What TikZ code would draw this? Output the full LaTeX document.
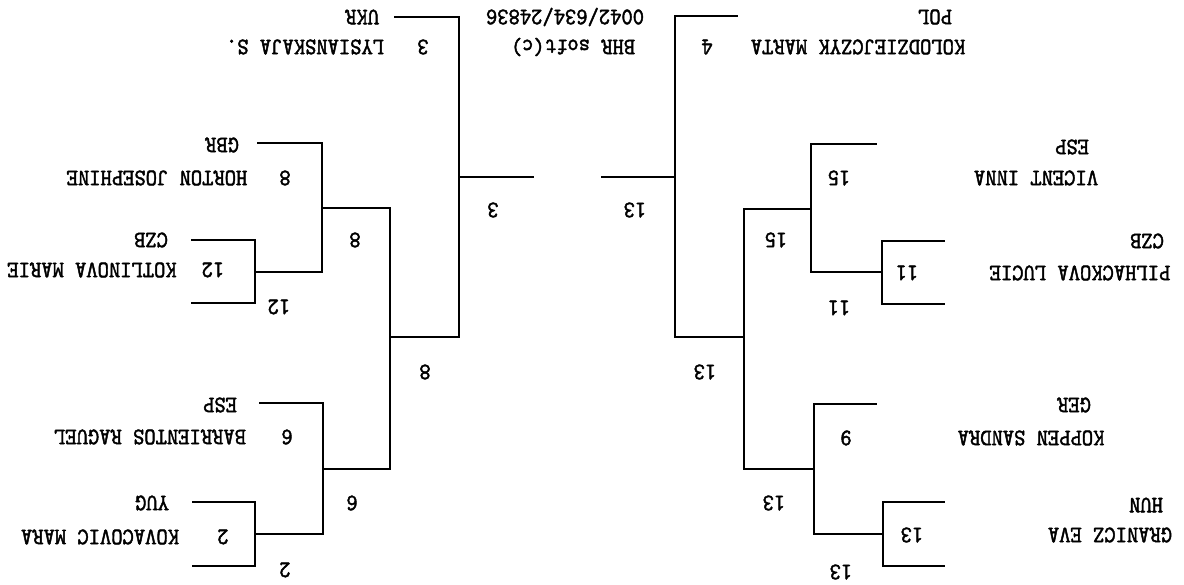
\documentclass[tikz,border=0pt]{standalone}
\usepackage{tikz}
\usepackage{fontspec}
\newfontfamily\printfont[FakeBold=2]{lmmono10-regular.otf}

\begin{document}
\begin{tikzpicture}[x=1pt,y=-1pt,entry/.style={rotate=180,yscale=1.1,inner sep=0pt,font=\fontsize{21.5}{24}\selectfont\printfont\bfseries},bracket/.style={line width=1.3pt,line cap=rect}]
  \useasboundingbox (0,0) rectangle (1184,585);
  % left half
  \coordinate (ukr) at (395,17);
  \coordinate (sf3) at (459,177);
  \coordinate (finL) at (533,177);
  \coordinate (qf8) at (390,337);
  \coordinate (r8) at (322,208);
  \coordinate (r6) at (323,469);
  \coordinate (gbr) at (258,143);
  \coordinate (m12) at (255,272);
  \coordinate (czb) at (192,240);
  \coordinate (czbb) at (192,303);
  \coordinate (esp) at (260,403);
  \coordinate (m2) at (255,534);
  \coordinate (yug) at (193,502);
  \coordinate (yugb) at (193,566);
  \draw[bracket] (ukr) -| (sf3) |- (qf8);
  \draw[bracket] (sf3) -- (finL);
  \draw[bracket] (r8) -| (qf8) |- (r6);
  \draw[bracket] (gbr) -| (r8) |- (m12);
  \draw[bracket] (czb) -| (m12) |- (czbb);
  \draw[bracket] (esp) -| (r6) |- (m2);
  \draw[bracket] (yug) -| (m2) |- (yugb);
  % right half
  \coordinate (pol) at (737,16);
  \coordinate (sf13) at (675,177);
  \coordinate (finR) at (602,177);
  \coordinate (qf13) at (744,337);
  \coordinate (r15) at (811,209);
  \coordinate (r13) at (814,469);
  \coordinate (espr) at (876,144);
  \coordinate (m11) at (882,272);
  \coordinate (czbr) at (944,241);
  \coordinate (czbrb) at (944,304);
  \coordinate (ger) at (876,404);
  \coordinate (m13) at (883,534);
  \coordinate (hun) at (944,502);
  \coordinate (hunb) at (944,566);
  \draw[bracket] (pol) -| (sf13) |- (qf13);
  \draw[bracket] (sf13) -- (finR);
  \draw[bracket] (r15) -| (qf13) |- (r13);
  \draw[bracket] (espr) -| (r15) |- (m11);
  \draw[bracket] (czbr) -| (m11) |- (czbrb);
  \draw[bracket] (ger) -| (r13) |- (m13);
  \draw[bracket] (hun) -| (m13) |- (hunb);
  % players, left
  \node[entry] (nUKR) at (362,17) {UKR};
  \node[entry] (pLys) at (305,47) {LYSIANSKAJA S.};
  \node[entry] (sLys) at (423,47) {3};
  \node[entry] (nGBR) at (222,145) {GBR};
  \node[entry] (pHor) at (157,178) {HORTON JOSEPHINE};
  \node[entry] (sHor) at (285,178) {8};
  \node[entry] (nCZB) at (151,240) {CZB};
  \node[entry] (pKot) at (92,270) {KOTLINOVA MARIE};
  \node[entry] (sKot) at (213,270) {12};
  \node[entry] (nESP) at (220,405) {ESP};
  \node[entry] (pBar) at (150,437) {BARRIENTOS RAGUEL};
  \node[entry] (sBar) at (287,437) {6};
  \node[entry] (nYUG) at (152,503) {YUG};
  \node[entry] (pKov) at (100,537) {KOVACOVIC MARA};
  \node[entry] (sKov) at (223,537) {2};
  % winners, left
  \node[entry] (w12) at (279,307) {12};
  \node[entry] (w8a) at (355,240) {8};
  \node[entry] (w2) at (285,570) {2};
  \node[entry] (w6) at (352,503) {6};
  \node[entry] (w8b) at (425,372) {8};
  \node[entry] (w3) at (493,210) {3};
  % players, right
  \node[entry] (nPOL) at (935,17) {POL};
  \node[entry] (pKol) at (858,47) {KOLODZIEJCZYK MARTA};
  \node[entry] (sKol) at (707,47) {4};
  \node[entry] (nESPr) at (1072,147) {ESP};
  \node[entry] (pVic) at (1036,178) {VICENT INNA};
  \node[entry] (sVic) at (839,178) {15};
  \node[entry] (nCZBr) at (1147,241) {CZB};
  \node[entry] (pPil) at (1080,273) {PILHACKOVA LUCIE};
  \node[entry] (sPil) at (907,273) {11};
  \node[entry] (nGER) at (1074,405) {GER};
  \node[entry] (pKop) at (1031,438) {KOPPEN SANDRA};
  \node[entry] (sKop) at (846,438) {9};
  \node[entry] (nHUN) at (1146,505) {HUN};
  \node[entry] (pGra) at (1110,535) {GRANICZ EVA};
  \node[entry] (sGra) at (912,535) {13};
  % winners, right
  \node[entry] (w15) at (776,240) {15};
  \node[entry] (w11) at (839,308) {11};
  \node[entry] (w13a) at (841,572) {13};
  \node[entry] (w13b) at (774,503) {13};
  \node[entry] (w13c) at (705,372) {13};
  \node[entry] (w13d) at (635,210) {13};
  % program stamp
  \node[entry] (code) at (565,17) {0042/634/24836};
  \node[entry] (soft) at (573,47) {BHR soft(c)};
\end{tikzpicture}
\end{document}
